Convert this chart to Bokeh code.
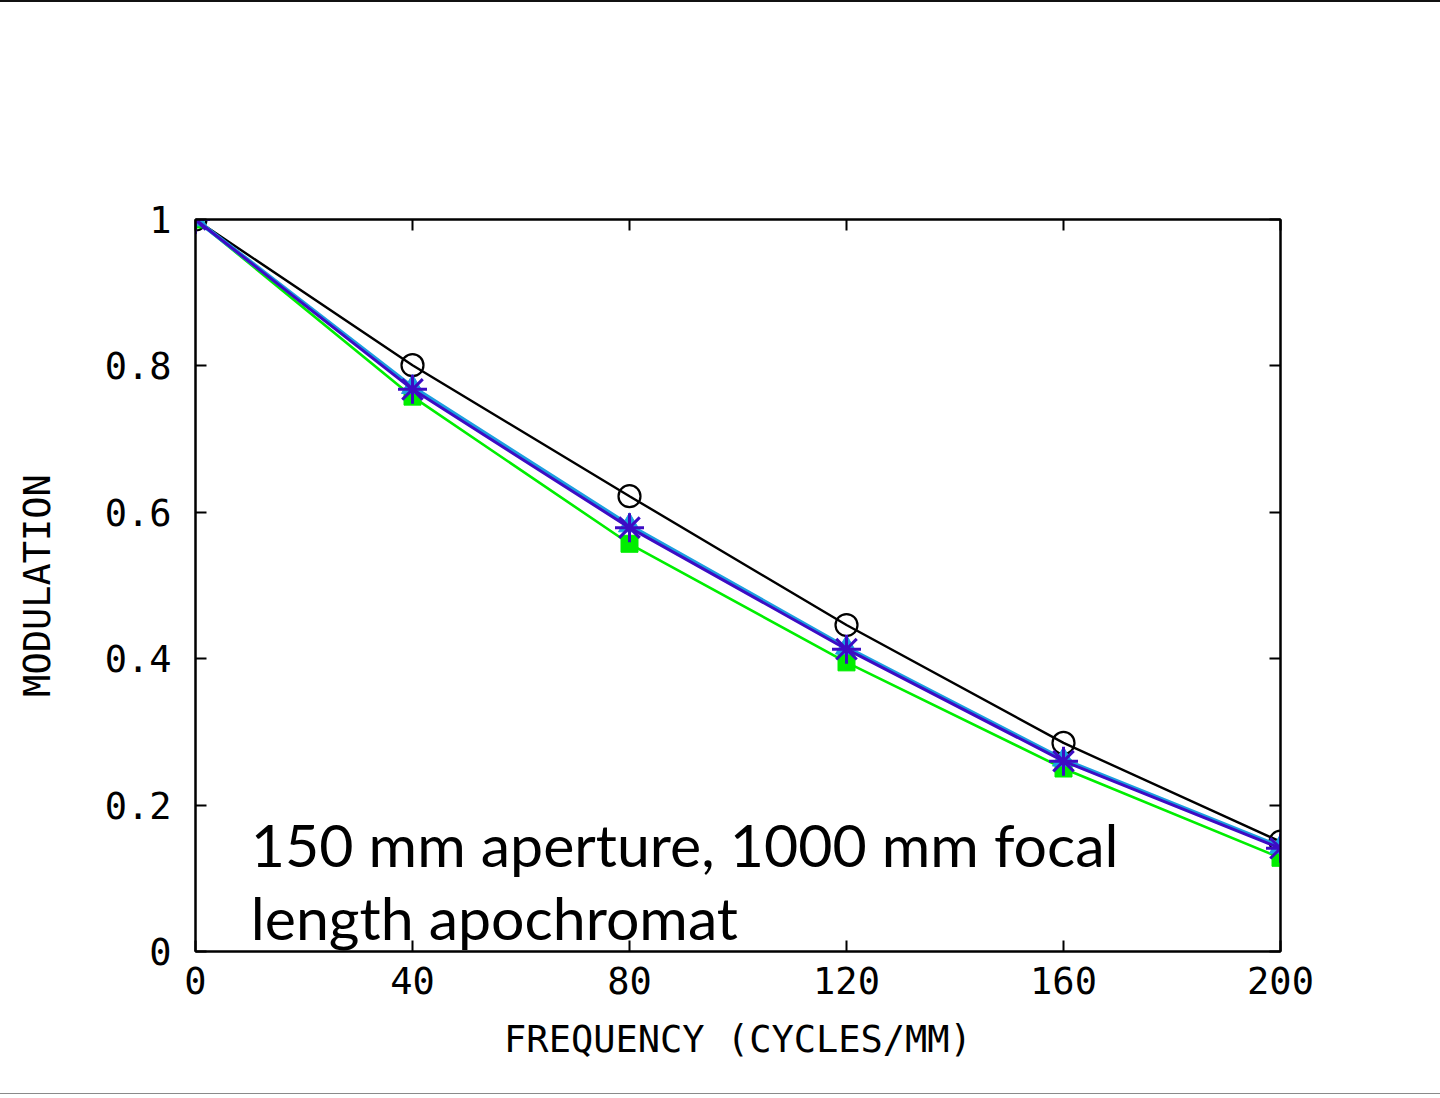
from bokeh.plotting import figure
from bokeh.models import LinearAxis, FixedTicker, Label
from bokeh.embed import file_html
from bokeh.resources import INLINE

# MTF of a 150 mm / f1000 apochromat, modulation vs spatial frequency
freq = [0, 40, 80, 120, 160, 200]
mtf_ideal = [1.0, 0.801, 0.622, 0.446, 0.285, 0.150]
mtf_green = [1.0, 0.758, 0.557, 0.395, 0.250, 0.128]
mtf_cyan = [1.0, 0.771, 0.582, 0.415, 0.262, 0.143]
mtf_blue = [1.0, 0.768, 0.579, 0.413, 0.260, 0.141]

x_ticks = [0, 40, 80, 120, 160, 200]
y_ticks = [0, 0.2, 0.4, 0.6, 0.8, 1]
y_tick_labels = {0: "0", 0.2: "0.2", 0.4: "0.4", 0.6: "0.6", 0.8: "0.8", 1: "1"}

note_lines = ["150 mm aperture, 1000 mm focal", "length apochromat"]

MONO = "DejaVu Sans Mono"

p = figure(width=1440, height=1094, output_backend="svg", toolbar_location=None,
           x_range=(0, 200), y_range=(0, 1),
           min_border_left=195, min_border_right=160,
           min_border_top=217, min_border_bottom=145)
p.styles = {"border-top": "2px solid #111111", "border-bottom": "1px solid #8a8a8a"}
p.grid.visible = False
p.outline_line_color = "black"
p.outline_line_width = 2
p.background_fill_color = "white"
p.border_fill_color = "white"

def style_axis(ax, labels=True):
    ax.axis_line_width = 2
    ax.axis_line_color = "black"
    ax.major_tick_in = 11
    ax.major_tick_out = 0
    ax.major_tick_line_width = 2
    ax.minor_tick_line_color = None
    ax.major_label_text_font = MONO
    ax.major_label_text_font_size = "37px"
    ax.major_label_text_color = "black" if labels else None
    ax.axis_label_text_font = MONO
    ax.axis_label_text_font_size = "37px"
    ax.axis_label_text_font_style = "normal"
    ax.axis_label_text_color = "black"

xa = p.xaxis[0]
xa.ticker = FixedTicker(ticks=x_ticks)
xa.axis_label = "FREQUENCY (CYCLES/MM)"
style_axis(xa)
xa.major_label_standoff = 15
xa.axis_label_standoff = 21

ya = p.yaxis[0]
ya.ticker = FixedTicker(ticks=y_ticks)
ya.major_label_overrides = {k: v for k, v in y_tick_labels.items()}
ya.axis_label = "MODULATION"
style_axis(ya)
ya.major_label_standoff = 24
ya.axis_label_standoff = 43

# tick marks on the top and right edges of the box, no labels
top = LinearAxis(ticker=FixedTicker(ticks=x_ticks), major_label_overrides={t: "" for t in x_ticks})
style_axis(top, labels=False)
p.add_layout(top, "above")
right = LinearAxis(ticker=FixedTicker(ticks=y_ticks), major_label_overrides={t: "" for t in y_ticks})
style_axis(right, labels=False)
p.add_layout(right, "right")

# reference (diffraction limited) curve
p.line(freq, mtf_ideal, line_color="black", line_width=2.4)
p.scatter(freq, mtf_ideal, marker="circle", size=22, fill_color=None,
          line_color="black", line_width=2.2)
# green
p.line(freq, mtf_green, line_color="#00ee00", line_width=2.6)
p.scatter(freq, mtf_green, marker="square", size=17, fill_color="#00ee00",
          line_color="#00ee00")
# light blue
p.line(freq, mtf_cyan, line_color="#1c9fe0", line_width=4.2)
p.scatter(freq, mtf_cyan, marker="triangle", size=22, fill_color="#1c9fe0",
          line_color="#1c9fe0")
# violet-blue
p.line(freq, mtf_blue, line_color="#3d0bc4", line_width=3)
p.scatter(freq, mtf_blue, marker="asterisk", size=29, line_color="#3d0bc4",
          line_width=3)

# caption inside the plot box
for txt, yv in zip(note_lines, [0.146, 0.046]):
    p.add_layout(Label(x=10.2, y=yv, text=txt, text_font="Lato",
                       text_font_size="59px", text_color="black",
                       text_baseline="alphabetic", text_align="left",
                       level="overlay"))

open("out.html", "w").write(file_html(p, INLINE))
